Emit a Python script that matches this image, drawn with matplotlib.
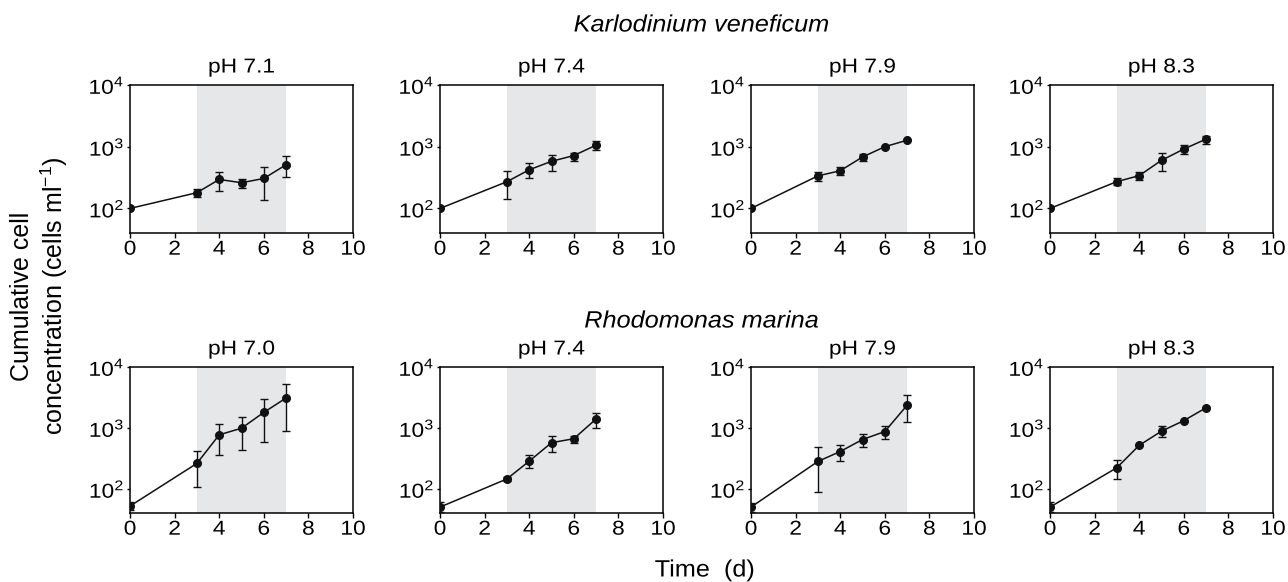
import matplotlib
matplotlib.use("Agg")
import matplotlib.pyplot as plt
import numpy as np
from matplotlib.patheffects import AbstractPathEffect
from matplotlib.transforms import Affine2D

plt.rcParams['font.family'] = ['Liberation Sans', 'DejaVu Sans']
plt.rcParams['mathtext.fontset'] = 'custom'
plt.rcParams['mathtext.rm'] = 'Liberation Sans'
plt.rcParams['mathtext.it'] = 'Liberation Sans:italic'
plt.rcParams['mathtext.bf'] = 'Liberation Sans:bold'
plt.rcParams['mathtext.default'] = 'regular'

days = [0, 3, 4, 5, 6, 7]

species = ["Karlodinium veneficum", "Rhodomonas marina"]
ph_labels = [["pH 7.1", "pH 7.4", "pH 7.9", "pH 8.3"],
             ["pH 7.0", "pH 7.4", "pH 7.9", "pH 8.3"]]
x_ticks = [0, 2, 4, 6, 8, 10]
y_ticks = [100, 1000, 10000]
y_ticklabels = [r'10$^{2}$', r'10$^{3}$', r'10$^{4}$']

# Karlodinium veneficum: mean, lower, upper
kv_mean = [[100, 180, 295, 261, 306, 510],
           [100, 271, 423, 580, 719, 1060],
           [100, 337, 408, 681, 1000, 1275],
           [100, 272, 340, 602, 916, 1330]]
kv_low = [[100, 155, 189, 214, 138, 323],
          [100, 144, 308, 410, 590, 900],
          [100, 282, 346, 590, 1000, 1275],
          [100, 238, 286, 400, 752, 1090]]
kv_high = [[100, 210, 390, 295, 470, 705],
           [100, 402, 535, 740, 800, 1250],
           [100, 385, 464, 765, 1000, 1275],
           [100, 312, 390, 800, 1070, 1510]]

# Rhodomonas marina: mean, lower, upper
rm_mean = [[52, 261, 769, 988, 1795, 3100],
           [50, 145, 284, 571, 664, 1400],
           [50, 281, 409, 644, 871, 2355],
           [50, 222, 517, 883, 1316, 2140]]
rm_low = [[44, 106, 355, 428, 593, 883],
          [42, 133, 222, 403, 571, 1000],
          [42, 88, 281, 494, 661, 1254],
          [42, 142, 517, 715, 1316, 2140]]
rm_high = [[61, 413, 1160, 1510, 2950, 5200],
           [60, 159, 355, 733, 742, 1780],
           [59, 482, 525, 800, 1092, 3440],
           [60, 299, 517, 1064, 1316, 2140]]

means = [kv_mean, rm_mean]
lows = [kv_low, rm_low]
highs = [kv_high, rm_high]


class StretchX(AbstractPathEffect):
    """Widen glyphs horizontally (in text direction) around an anchor."""
    def __init__(self, sx, anchor='center'):
        super().__init__()
        self.sx = sx
        self.anchor = anchor

    def draw_path(self, renderer, gc, tpath, affine, rgbFace=None):
        ext = tpath.get_extents()
        if self.anchor == 'left':
            cx = ext.x0
        elif self.anchor == 'right':
            cx = ext.x1
        else:
            cx = 0.5 * (ext.x0 + ext.x1)
        t = Affine2D().translate(-cx, 0).scale(self.sx, 1.0).translate(cx, 0) + affine
        renderer.draw_path(gc, tpath, t, rgbFace)


SMALL = 14.5
SMALL_SX = 1.13
BIG = 17
BIG_SX = 1.07

fig = plt.figure(figsize=(12.88, 5.82), dpi=100)
W, H = 1288.0, 582.0

lefts = [130, 440, 751, 1050]
width = 223
rows = [(85, 233), (367, 513)]

for r in range(2):
    top, bot = rows[r]
    for c in range(4):
        ax = fig.add_axes([lefts[c] / W, 1 - bot / H, width / W, (bot - top) / H])
        ax.axvspan(3, 7, color='#e6e7e9', lw=0, zorder=0)
        m = np.array(means[r][c], dtype=float)
        lo = np.array(lows[r][c], dtype=float)
        hi = np.array(highs[r][c], dtype=float)
        yerr = np.vstack([m - lo, hi - m])
        ax.errorbar(days, m, yerr=yerr, fmt='o-', color='#111111', ms=5.5,
                    lw=1.1, elinewidth=1.0, capsize=2.6, capthick=1.0, zorder=3)
        ax.set_yscale('log')
        ax.set_ylim(40, 10000)
        ax.set_xlim(0, 10)
        ax.set_xticks(x_ticks)
        ax.set_xticklabels([str(v) for v in x_ticks])
        ax.set_yticks(y_ticks)
        ax.set_yticklabels(y_ticklabels)
        ax.yaxis.set_minor_locator(matplotlib.ticker.NullLocator())
        ax.tick_params(axis='x', which='major', labelsize=SMALL, length=3.3,
                       width=1.0, direction='out', pad=1.5)
        ax.tick_params(axis='y', which='major', labelsize=SMALL, length=2.5,
                       width=1.0, direction='out', pad=1.5)
        for s in ax.spines.values():
            s.set_linewidth(1.1)
        for lbl in ax.get_xticklabels():
            lbl.set_path_effects([StretchX(SMALL_SX, 'center')])
        for lbl in ax.get_yticklabels():
            lbl.set_path_effects([StretchX(SMALL_SX, 'right')])
        t = ax.set_title(ph_labels[r][c], fontsize=SMALL, pad=9)
        t.set_path_effects([StretchX(SMALL_SX, 'center')])

cx = 701.5 / W
t1 = fig.text(cx, 1 - 31.5 / H, species[0], ha='center', va='baseline',
              fontsize=BIG, style='italic')
t2 = fig.text(cx, 1 - 327.5 / H, species[1], ha='center', va='baseline',
              fontsize=BIG, style='italic')
t3 = fig.text(705 / W, 1 - 576.5 / H, 'Time  (d)', ha='center', va='baseline',
              fontsize=BIG)
for t in (t1, t2, t3):
    t.set_path_effects([StretchX(BIG_SX, 'center')])
fig.text(40 / W, 1 - 296 / H, 'Cumulative cell\nconcentration (cells ml$^{-1}$)',
         ha='center', va='center', rotation=90, fontsize=18, linespacing=1.15)

fig.savefig('out.png', dpi=100)
